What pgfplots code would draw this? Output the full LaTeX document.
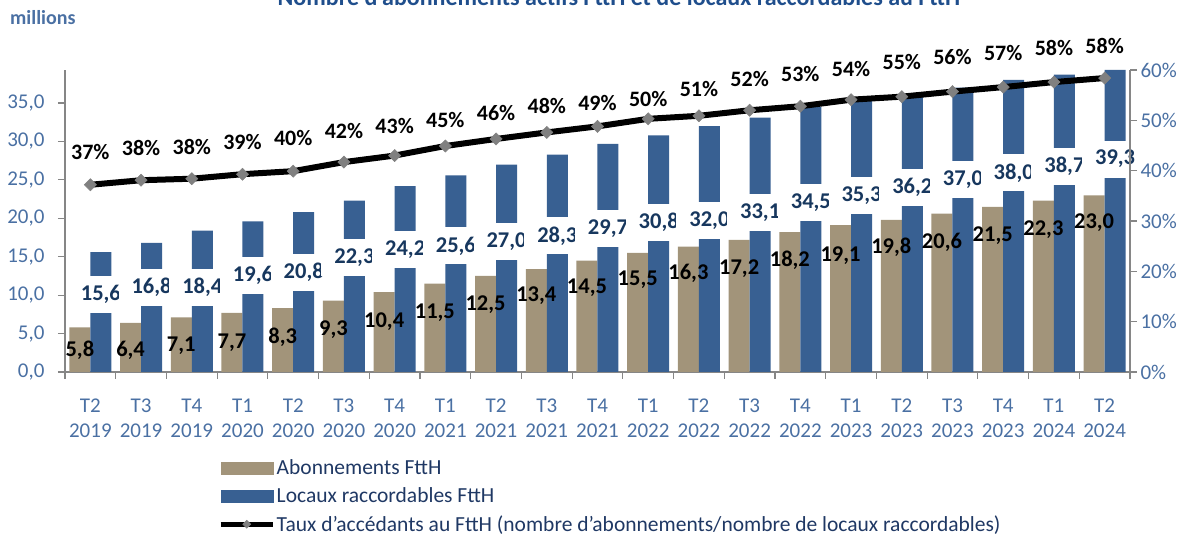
\documentclass[border=0pt]{standalone}
\usepackage{fontspec}
\setmainfont{Carlito}
\usepackage{pgfplots}
\usepackage{pgfplotstable}
\pgfplotsset{compat=1.18}

\definecolor{tanbar}{RGB}{162,148,122}
\definecolor{bluebar}{RGB}{56,96,146}
\definecolor{lblblue}{RGB}{23,55,94}
\definecolor{tickblue}{RGB}{74,112,163}
\definecolor{legblue}{RGB}{31,56,100}
\definecolor{titleblue}{RGB}{31,78,140}
\definecolor{axgray}{RGB}{134,134,134}
\definecolor{markgray}{RGB}{128,128,128}

\pgfplotstableread{
x ab loc aby locy pct pcty abl locl pctl
0 5.8 15.6 2.8 10.1 37.2 43.7 5,8 15,6 37
1 6.4 16.8 2.8 11.0 38.1 44.5 6,4 16,8 38
2 7.1 18.4 3.4 11.0 38.4 44.7 7,1 18,4 38
3 7.7 19.6 3.8 12.6 39.3 45.7 7,7 19,6 39
4 8.3 20.8 4.5 13.0 39.9 46.5 8,3 20,8 40
5 9.3 22.3 5.5 14.9 41.7 47.9 9,3 22,3 42
6 10.4 24.2 6.5 15.9 43.0 48.9 10,4 24,2 43
7 11.5 25.6 7.7 16.4 44.9 50.1 11,5 25,6 45
8 12.5 27.0 8.8 17.0 46.3 51.5 12,5 27,0 46
9 13.4 28.3 10.0 17.7 47.6 52.9 13,4 28,3 48
10 14.5 29.7 11.0 18.7 48.8 53.4 14,5 29,7 49
11 15.5 30.8 12.0 19.5 50.3 54.2 15,5 30,8 50
12 16.3 32.0 12.9 19.7 50.9 56.2 16,3 32,0 51
13 17.2 33.1 13.5 20.8 52.0 58.2 17,2 33,1 52
14 18.2 34.5 14.5 22.0 52.8 59.2 18,2 34,5 53
15 19.1 35.3 15.2 23.0 54.1 60.2 19,1 35,3 54
16 19.8 36.2 16.2 24.0 54.7 61.5 19,8 36,2 55
17 20.6 37.0 16.9 25.0 55.7 62.5 20,6 37,0 56
18 21.5 38.0 17.8 25.9 56.6 63.4 21,5 38,0 57
19 22.3 38.7 18.5 26.8 57.6 64.4 22,3 38,7 58
20 23.0 39.3 19.5 27.7 58.4 64.8 23,0 39,3 58
}\data

\begin{document}
\begin{tikzpicture}
\begin{axis}[
  at={(65bp,164bp)}, anchor=south west,
  scale only axis, width=1065bp, height=302bp,
  xmin=-0.5, xmax=20.5, ymin=0, ymax=39.3,
  axis x line*=bottom, axis y line*=left,
  axis line style={axgray, line width=1.2bp, -},
  xtick={-0.5,0.5,...,20.5}, x tick label as interval,
  xticklabels={{T2\\2019},{T3\\2019},{T4\\2019},{T1\\2020},{T2\\2020},{T3\\2020},{T4\\2020},{T1\\2021},{T2\\2021},{T3\\2021},{T4\\2021},{T1\\2022},{T2\\2022},{T3\\2022},{T4\\2022},{T1\\2023},{T2\\2023},{T3\\2023},{T4\\2023},{T1\\2024},{T2\\2024}},
  ytick={0,5,...,35},
  yticklabels={{0,0},{5,0},{10,0},{15,0},{20,0},{25,0},{30,0},{35,0}},
  tick align=outside, major tick length=7bp,
  tick style={axgray, line width=1.2bp},
  tick label style={font=\fontsize{21bp}{25bp}\selectfont, text=tickblue},
  xticklabel style={align=center, yshift=-16bp},
  yticklabel style={anchor=east, xshift=-10bp},
  clip=false,
]
\addplot[ybar, bar width=21bp, bar shift=-10.5bp, fill=tanbar, draw=none] table[x=x,y=ab]{\data};
\addplot[ybar, bar width=21bp, bar shift=10.5bp, fill=bluebar, draw=none] table[x=x,y=loc]{\data};
\addplot[draw=none, mark=none, nodes near coords, point meta=explicit symbolic,
  nodes near coords style={anchor=center, font=\fontsize{22.5bp}{26bp}\selectfont\bfseries, text=black, xshift=-10.5bp}]
  table[x=x, y=aby, meta=abl]{\data};
\addplot[draw=none, mark=none, nodes near coords, point meta=explicit symbolic,
  nodes near coords style={anchor=center, font=\fontsize{22.5bp}{26bp}\selectfont\bfseries, text=lblblue, fill=white, minimum height=37bp, inner xsep=13bp, xshift=10.5bp}]
  table[x=x, y=locy, meta=locl]{\data};
\end{axis}

\begin{axis}[
  at={(65bp,164bp)}, anchor=south west,
  scale only axis, width=1065bp, height=302bp,
  xmin=-0.5, xmax=20.5, ymin=0, ymax=60,
  axis x line=none, axis y line*=right,
  axis line style={axgray, line width=1.2bp, -},
  ytick={0,10,...,60},
  yticklabels={0\%,10\%,20\%,30\%,40\%,50\%,60\%},
  tick align=outside, major tick length=7bp,
  tick style={axgray, line width=1.2bp},
  tick label style={font=\fontsize{21bp}{24bp}\selectfont, text=tickblue},
  clip=false,
  legend cell align=left,
  legend style={at={(axis description cs:0.1437,-0.285)}, anchor=north west, draw=none, fill=none,
    inner sep=0pt, row sep=8.5bp, font=\fontsize{21.5bp}{24bp}\selectfont, text=legblue,
    nodes={inner sep=1.5bp}},
]
\addlegendimage{legend image code/.code={\fill[tanbar] (0bp,-6bp) rectangle (52bp,6bp);}}
\addlegendentry{Abonnements FttH}
\addlegendimage{legend image code/.code={\fill[bluebar] (0bp,-6bp) rectangle (52bp,6bp);}}
\addlegendentry{Locaux raccordables FttH}
\addlegendimage{legend image code/.code={\draw[black, line width=5bp] (0bp,0bp) -- (52bp,0bp); \fill[markgray] (26bp,4bp) -- (30bp,0bp) -- (26bp,-4bp) -- (22bp,0bp) -- cycle;}}
\addlegendentry{Taux d'accédants au FttH (nombre d'abonnements/nombre de locaux raccordables)}
\addplot[forget plot, black, line width=6bp, mark=square*, mark size=4.3bp,
  mark options={fill=markgray, draw=markgray, line width=0.5bp, rotate=45}]
  table[x=x,y=pct]{\data};
\addplot[forget plot, draw=none, mark=none, nodes near coords={\pgfplotspointmeta\%}, point meta=explicit symbolic,
  nodes near coords style={anchor=center, font=\fontsize{22bp}{26bp}\selectfont\bfseries, text=black}]
  table[x=x, y=pcty, meta=pctl]{\data};
\end{axis}

\node[anchor=base, font=\fontsize{24bp}{28bp}\selectfont\bfseries, text=titleblue] at (619bp,530bp)
  {Nombre d'abonnements actifs FttH et de locaux raccordables au FttH};
\node[anchor=base west, inner sep=0pt, font=\fontsize{20bp}{24bp}\selectfont\bfseries, text=tickblue] at (10bp,511bp) {millions};

\pgfresetboundingbox
\path[use as bounding box] (0bp,0bp) rectangle (1189bp,536bp);
\end{tikzpicture}
\end{document}
